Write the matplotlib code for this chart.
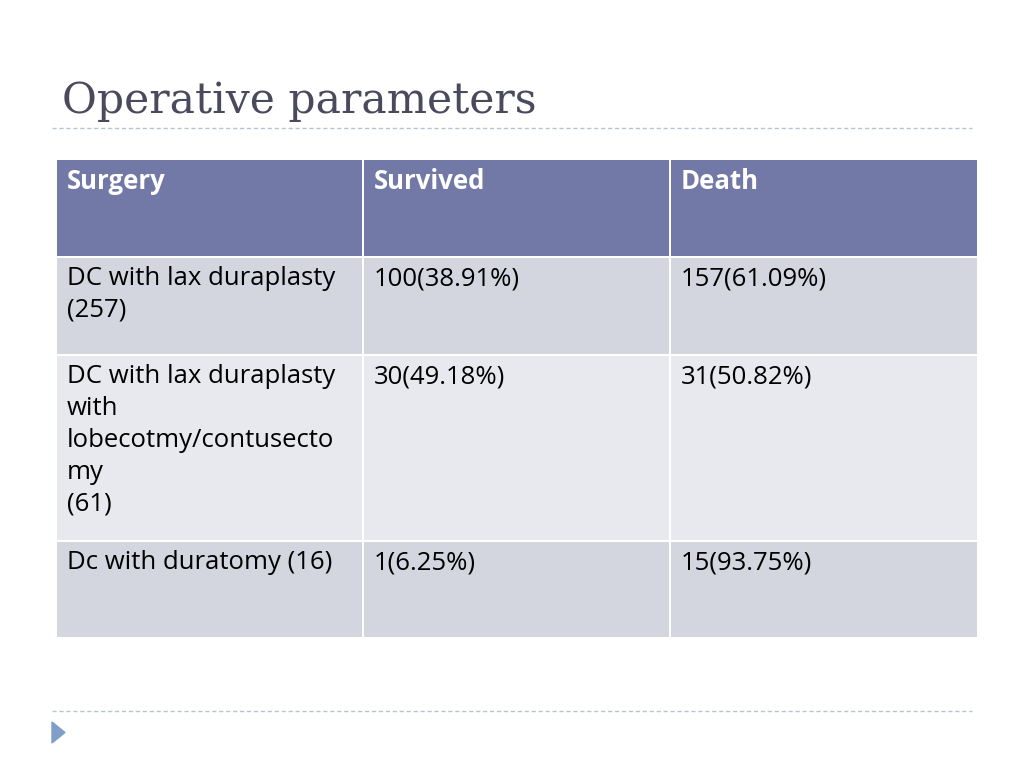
import matplotlib
matplotlib.use("Agg")
import matplotlib.pyplot as plt
from matplotlib.patches import Rectangle, Polygon

title = "Operative parameters"
headers = ["Surgery", "Survived", "Death"]
surgery = ["DC with lax duraplasty\n(257)",
           "DC with lax duraplasty\nwith\nlobecotmy/contusecto\nmy\n(61)",
           "Dc with duratomy (16)"]
survived = ["100(38.91%)", "30(49.18%)", "1(6.25%)"]
death = ["157(61.09%)", "31(50.82%)", "15(93.75%)"]

col_x = [57, 364, 671]
col_w = [305, 305, 306]
row_y = [160, 258, 356, 542]
row_h = [96, 96, 184, 95]
row_colors = ["#7279a6", "#d3d6df", "#e8e9ee", "#d3d6df"]

fig = plt.figure(figsize=(10.24, 7.68), dpi=100)
ax = fig.add_axes([0, 0, 1, 1])
ax.set_xlim(0, 1024)
ax.set_ylim(768, 0)
ax.axis("off")

ax.text(62, 101, title, fontsize=30.6, family="DejaVu Serif", color="#4a4a5c",
        va="center", ha="left")
ax.plot([52, 972], [128, 128], ls=(0, (3, 2)), color="#b8c4cc", lw=1)
ax.plot([52, 972], [711, 711], ls=(0, (3, 2)), color="#b8c4cc", lw=1)
ax.add_patch(Polygon([[52, 722], [52, 743], [65, 732.5]], color="#7f9fc8"))

rows = [headers] + [list(r) for r in zip(surgery, survived, death)]
for i, row in enumerate(rows):
    for j, txt in enumerate(row):
        ax.add_patch(Rectangle((col_x[j], row_y[i]), col_w[j], row_h[i],
                               facecolor=row_colors[i], edgecolor="none"))
        ax.text(col_x[j] + 10, row_y[i] + 8, txt, fontsize=18.5,
                family="Open Sans", va="top", ha="left", linespacing=1.36,
                color="white" if i == 0 else "black",
                weight="bold" if i == 0 else "normal")

fig.savefig("out.png", dpi=100)
